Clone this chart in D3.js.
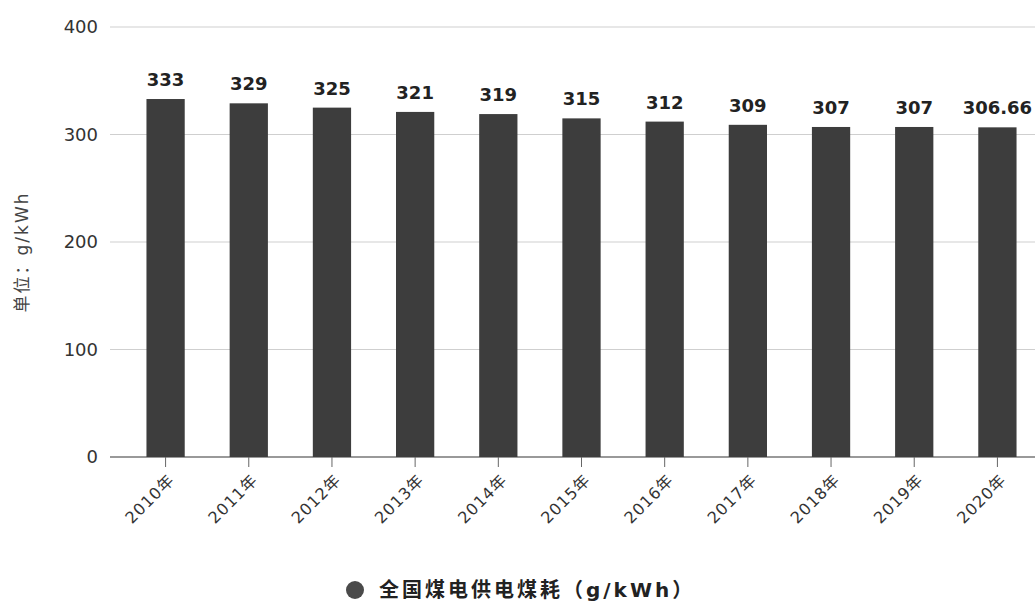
<!DOCTYPE html>
<html>
<head>
<meta charset="utf-8">
<script src="https://cdn.jsdelivr.net/npm/d3@7"></script>
<style>
  body { margin: 0; background: #fff; }
  svg { display: block; font-family: "DejaVu Sans", "Noto Sans CJK SC", sans-serif; }
</style>
</head>
<body>
<svg id="chart" width="1035" height="607"></svg>
<script>
var years = ["2010年", "2011年", "2012年", "2013年", "2014年", "2015年", "2016年", "2017年", "2018年", "2019年", "2020年"];
var coalUse = [333, 329, 325, 321, 319, 315, 312, 309, 307, 307, 306.66];
var yTicks = [0, 100, 200, 300, 400];
var seriesName = "全国煤电供电煤耗（g/kWh）";

var svg = d3.select("#chart");
var margin = {left: 124, right: -4, top: 27, bottom: 150};
var width = 1035 - margin.left - margin.right;
var height = 607 - margin.top - margin.bottom;

var g = svg.append("g").attr("transform", "translate(" + margin.left + "," + margin.top + ")");

var x = d3.scaleBand().domain(years).range([0, width]).paddingInner(0.54).paddingOuter(0.27);
var y = d3.scaleLinear().domain([0, 400]).range([height, 0]);

// gridlines
g.append("g")
    .selectAll("line")
    .data(yTicks)
    .enter().append("line")
    .attr("x1", -14).attr("x2", width)
    .attr("y1", d => y(d)).attr("y2", d => y(d))
    .attr("stroke", d => d == 0 ? "#777" : "#cfcfcf")
    .attr("stroke-width", d => d == 0 ? 1.5 : 1);

// y labels
g.append("g")
    .selectAll("text")
    .data(yTicks)
    .enter().append("text")
    .attr("x", -26).attr("y", d => y(d))
    .attr("dy", "0.35em")
    .attr("text-anchor", "end")
    .attr("font-size", 18)
    .attr("fill", "#333")
    .text(d => d);

// bars
g.append("g")
    .selectAll("rect")
    .data(coalUse)
    .enter().append("rect")
    .attr("x", (d, i) => x(years[i]))
    .attr("y", d => y(d))
    .attr("width", x.bandwidth())
    .attr("height", d => height - y(d))
    .attr("fill", "#3d3d3d");

// value labels
g.append("g")
    .selectAll("text")
    .data(coalUse)
    .enter().append("text")
    .attr("x", (d, i) => x(years[i]) + x.bandwidth() / 2)
    .attr("y", d => y(d) - 13)
    .attr("text-anchor", "middle")
    .attr("font-size", 18)
    .attr("font-weight", "bold")
    .attr("fill", "#222")
    .text(d => d);

// x axis ticks + labels
var xAxis = g.append("g").attr("transform", "translate(0," + height + ")");
xAxis.selectAll("line")
    .data(years)
    .enter().append("line")
    .attr("x1", d => x(d) + x.bandwidth() / 2)
    .attr("x2", d => x(d) + x.bandwidth() / 2)
    .attr("y1", 0).attr("y2", 10)
    .attr("stroke", "#666");
xAxis.selectAll("text")
    .data(years)
    .enter().append("text")
    .attr("transform", d => "translate(" + (x(d) + x.bandwidth() / 2 + 6) + ",20) rotate(-45)")
    .attr("text-anchor", "end")
    .attr("dy", "0.35em")
    .attr("font-size", 16)
    .attr("letter-spacing", 1)
    .attr("fill", "#333")
    .text(d => d);

// y title
svg.append("text")
    .attr("transform", "translate(22,252) rotate(-90)")
    .attr("text-anchor", "middle")
    .attr("dy", "0.35em")
    .attr("font-size", 17)
    .attr("letter-spacing", 2)
    .attr("fill", "#444")
    .text("单位：g/kWh");

// legend
var legend = svg.append("g").attr("transform", "translate(355,590)");
legend.append("circle").attr("r", 9).attr("fill", "#4a4a4a");
legend.append("text")
    .attr("x", 24).attr("dy", "0.35em")
    .attr("font-size", 20)
    .attr("font-weight", "bold")
    .attr("letter-spacing", 3)
    .attr("fill", "#222")
    .text(seriesName);
</script>
</body>
</html>
